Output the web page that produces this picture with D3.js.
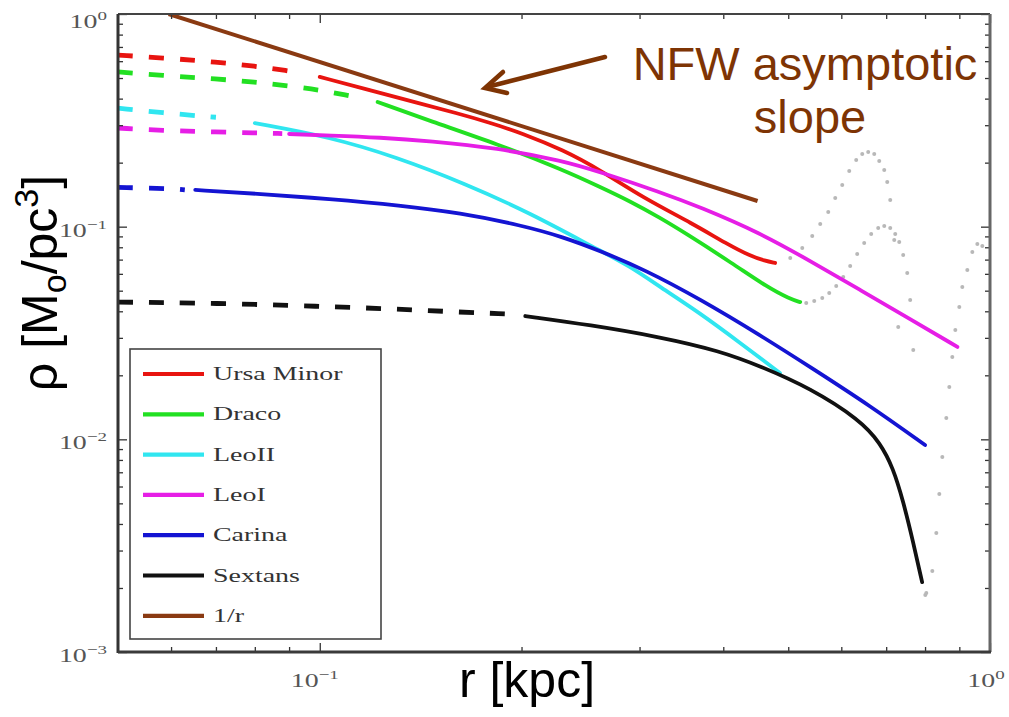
<!DOCTYPE html>
<html><head><meta charset="utf-8">
<script src="https://cdn.jsdelivr.net/npm/d3@7"></script>
<style>body{margin:0;background:#fff;} svg{display:block;}</style>
</head><body>
<svg id="c" width="1009" height="717"></svg>
<script>
// ---------------- DATA ----------------
const seriesNames = ["Ursa Minor","Draco","LeoII","LeoI","Carina","Sextans","1/r"];
const seriesColors = ["#e81410","#22e022","#30e6f0","#e61ee6","#1414d2","#111111","#8a3a12"];

const umDashR = [0.05,0.06,0.07,0.08,0.09,0.0935];
const umDashRho = [0.641,0.618,0.594,0.569,0.540,0.528];
const umR = [0.1,0.12,0.14,0.16,0.18,0.2,0.231,0.262,0.304,0.361,0.405,0.4388,0.462,0.478];
const umRho = [0.506,0.4344,0.3815,0.3423,0.3073,0.2757,0.229,0.1847,0.1364,0.1029,0.0829,0.0728,0.0690,0.0675];

const drDashR = [0.05,0.06,0.07,0.08,0.09,0.1,0.111];
const drDashRho = [0.534,0.511,0.495,0.479,0.459,0.439,0.412];
const drR = [0.122,0.146,0.184,0.231,0.262,0.290,0.322,0.349,0.414,0.465,0.503,0.521];
const drRho = [0.386,0.3140,0.2447,0.1847,0.1536,0.1320,0.110,0.0944,0.0668,0.0520,0.0457,0.0442];

const l2DashR = [0.05,0.06,0.07];
const l2DashRho = [0.361,0.340,0.327];
const l2R = [0.08,0.1036,0.130,0.164,0.206,0.259,0.290,0.322,0.369,0.424,0.486];
const l2Rho = [0.307,0.264,0.2127,0.1604,0.1160,0.0785,0.0653,0.0520,0.0393,0.0284,0.0205];

const l1DashR = [0.05,0.06,0.07,0.08,0.0879];
const l1DashRho = [0.291,0.282,0.279,0.276,0.274];
const l1R = [0.09,0.1036,0.123,0.146,0.184,0.231,0.262,0.322,0.369,0.454,0.539,0.640,0.760,0.894];
const l1Rho = [0.2727,0.2684,0.2626,0.2528,0.2344,0.2036,0.1807,0.1455,0.1237,0.0934,0.0690,0.0504,0.0368,0.0272];

const caDashR = [0.05,0.06,0.0629];
const caDashRho = [0.153,0.151,0.149];
const caR = [0.0652,0.08,0.1036,0.1318,0.162,0.1991,0.231,0.262,0.306,0.369,0.454,0.539,0.663,0.800];
const caRho = [0.1488,0.1432,0.1349,0.1258,0.1160,0.1018,0.0894,0.0769,0.0626,0.0457,0.0309,0.0219,0.01435,0.0094];

const sxDashR = [0.05,0.07,0.1,0.13,0.16,0.19];
const sxDashRho = [0.0442,0.0437,0.0422,0.0410,0.0397,0.0389];
const sxR = [0.2026,0.253,0.322,0.396,0.454,0.539,0.640,0.686,0.717,0.742,0.768,0.792];
const sxRho = [0.0380,0.0345,0.0303,0.0260,0.0221,0.01743,0.01233,0.00961,0.00733,0.00513,0.00329,0.00213];

const nfwR = [0.0595,0.45];
const nfwRho = [1.0,0.132];

// grey dotted extrapolations
const extAR = [0.5035,0.5247,0.5430,0.5581,0.5737,0.5876,0.6019,0.6166,0.6315,0.6447,0.6581,0.6719,0.6835,0.6954,0.7026,0.7098,0.7197,0.7296,0.7683];
const extARho = [0.0712,0.0794,0.0904,0.1029,0.1172,0.1364,0.1570,0.1827,0.2058,0.2196,0.2244,0.2196,0.2036,0.1847,0.1622,0.1334,0.0865,0.0337,0.0263];
const extBR = [0.5319,0.5467,0.5620,0.5756,0.5896,0.6040,0.6186,0.6337,0.6491,0.6649,0.6811,0.6954,0.7098,0.7221,0.7321,0.7422,0.7525,0.7602];
const extBRho = [0.04376,0.04472,0.04620,0.04877,0.05260,0.05799,0.06533,0.07437,0.08378,0.09237,0.09857,0.10073,0.09857,0.09237,0.08469,0.07357,0.06056,0.04520];
const extCR = [0.8007,0.8034,0.8202,0.8316,0.8402,0.8489,0.8606,0.8695,0.8785,0.8877,0.8999,0.9092,0.9250,0.9411,0.9574,0.9740];
const extCRho = [0.001854,0.001895,0.002404,0.003627,0.005534,0.008259,0.01260,0.01762,0.02439,0.03267,0.04192,0.05203,0.06255,0.07600,0.08288,0.08111];

const xMajor = [0.1,1];
const xMinor = [0.06,0.07,0.08,0.09,0.2,0.3,0.4,0.5,0.6,0.7,0.8,0.9];
const yMajor = [0.001,0.01,0.1,1];
const yMinor = [];
[0.001,0.01,0.1].forEach(d => { for (let k=2;k<=9;k++) yMinor.push(d*k); });
const xTickLabels = [["10","−1"],["10","0"]];
const yTickLabels = [["10","−3"],["10","−2"],["10","−1"],["10","0"]];

// ---------------- CHART ----------------
const svg = d3.select("#c");
const L=118, R=990, T=14, B=652;
const x = d3.scaleLog().domain([0.05,1]).range([L,R]);
const y = d3.scaleLog().domain([0.001,1]).range([B,T]);

svg.append("defs").append("clipPath").attr("id","clip")
  .append("rect").attr("x",L).attr("y",T).attr("width",R-L).attr("height",B-T);
const g = svg.append("g").attr("clip-path","url(#clip)");

const line = d3.line().x(d=>x(d[0])).y(d=>y(d[1])).curve(d3.curveBasis);
const zip = (a,b)=>a.map((v,i)=>[v,b[i]]);

// grey dots
[[extAR,extARho],[extBR,extBRho],[extCR,extCRho]].forEach(([rr,pp])=>{
  g.append("g").selectAll("circle").data(zip(rr,pp)).join("circle")
   .attr("cx",d=>x(d[0])).attr("cy",d=>y(d[1])).attr("r",2).attr("fill","#b8b8b8");
});

const series = [
  [umDashR,umDashRho,umR,umRho],
  [drDashR,drDashRho,drR,drRho],
  [l2DashR,l2DashRho,l2R,l2Rho],
  [l1DashR,l1DashRho,l1R,l1Rho],
  [caDashR,caDashRho,caR,caRho],
  [sxDashR,sxDashRho,sxR,sxRho]
];
series.forEach((s,i)=>{
  g.append("path").attr("d",line(zip(s[0],s[1]))).attr("fill","none")
    .attr("stroke",seriesColors[i]).attr("stroke-width",4.8).attr("stroke-dasharray","15,16");
  g.append("path").attr("d",line(zip(s[2],s[3]))).attr("fill","none")
    .attr("stroke",seriesColors[i]).attr("stroke-width",3.8).attr("stroke-linecap","round");
});
// 1/r
g.append("path").attr("d",d3.line().x(d=>x(d[0])).y(d=>y(d[1]))(zip(nfwR,nfwRho)))
  .attr("fill","none").attr("stroke",seriesColors[6]).attr("stroke-width",4);

// axes frame & ticks
const axCol="#333";
function tickAxis(gen, vals, len, tr){
  const a = svg.append("g").attr("transform",tr)
    .call(gen.tickValues(vals).tickSizeInner(-len).tickSizeOuter(0).tickFormat(""));
  a.select(".domain").remove();
  a.selectAll("line").attr("stroke",axCol).attr("stroke-width",1.3);
}
tickAxis(d3.axisBottom(x), xMajor, 9, `translate(0,${B})`);
tickAxis(d3.axisBottom(x), xMinor, 5, `translate(0,${B})`);
tickAxis(d3.axisTop(x), xMajor, 9, `translate(0,${T})`);
tickAxis(d3.axisTop(x), xMinor, 5, `translate(0,${T})`);
tickAxis(d3.axisLeft(y), yMajor, 9, `translate(${L},0)`);
tickAxis(d3.axisLeft(y), yMinor, 5, `translate(${L},0)`);
tickAxis(d3.axisRight(y), yMajor, 9, `translate(${R},0)`);
tickAxis(d3.axisRight(y), yMinor, 5, `translate(${R},0)`);

svg.append("line").attr("x1",L).attr("x2",R).attr("y1",T).attr("y2",T).attr("stroke","#444").attr("stroke-width",2);
svg.append("line").attr("x1",R).attr("x2",R).attr("y1",T).attr("y2",B).attr("stroke","#666").attr("stroke-width",3);
svg.append("line").attr("x1",L).attr("x2",L).attr("y1",T).attr("y2",B+1).attr("stroke","#333").attr("stroke-width",3);
svg.append("line").attr("x1",L).attr("x2",R+1).attr("y1",B).attr("y2",B).attr("stroke","#3a3a3a").attr("stroke-width",3);

// stretched serif text helper
const SX = 1.47;
function serifText(px, py, anchor, parts, size, col){
  const gg = svg.append("g").attr("transform",`translate(${px},${py}) scale(${SX},1)`);
  const t = gg.append("text").attr("text-anchor",anchor)
    .attr("font-family","'Liberation Serif','DejaVu Serif',serif").attr("font-size",size).attr("fill",col);
  t.append("tspan").text(parts[0]);
  if (parts[1]) t.append("tspan").attr("dy",-8).attr("font-size",size*0.68).text(parts[1]);
  return t;
}
const tickCol="#555";
yMajor.forEach((v,i)=>{
  serifText(107, y(v)+ (v===1?14:10), "end", yTickLabels[i], 19, tickCol);
});
xMajor.forEach((v,i)=>{
  serifText(x(v)-(v===1?4:5), 687, "middle", xTickLabels[i], 19, tickCol);
});

// legend
const lg = svg.append("g");
lg.append("rect").attr("x",130).attr("y",349).attr("width",251).attr("height",290)
  .attr("fill","#fff").attr("stroke","#444").attr("stroke-width",1.6);
seriesNames.forEach((nm,i)=>{
  const ry = 374 + i*40.3;
  lg.append("line").attr("x1",143).attr("x2",204).attr("y1",ry).attr("y2",ry)
    .attr("stroke",seriesColors[i]).attr("stroke-width",4.2);
  serifText(213, ry+6, "start", [nm], 19, "#333");
});

// axis titles
svg.append("text").attr("x",527).attr("y",697).attr("text-anchor","middle")
  .attr("font-family","'Liberation Sans',Arial,sans-serif").attr("font-size",50).attr("fill","#000")
  .text("r [kpc]");
const yl = svg.append("text").attr("transform","translate(57,283) rotate(-90)").attr("text-anchor","middle")
  .attr("font-family","'Liberation Sans',Arial,sans-serif").attr("font-size",50).attr("fill","#000");
yl.append("tspan").text("ρ [M");
yl.append("tspan").attr("font-size",34).attr("dy",9).text("o");
yl.append("tspan").attr("dy",-9).text("/pc");
yl.append("tspan").attr("font-size",34).attr("dy",-19).text("3");
yl.append("tspan").attr("dy",19).text("]");

// annotation
const annCol="#7e3404";
svg.append("text").attr("x",805).attr("y",80).attr("text-anchor","middle")
  .attr("font-family","'Liberation Sans',Arial,sans-serif").attr("font-size",47).attr("fill",annCol)
  .text("NFW asymptotic");
svg.append("text").attr("x",810).attr("y",133).attr("text-anchor","middle")
  .attr("font-family","'Liberation Sans',Arial,sans-serif").attr("font-size",47).attr("fill",annCol)
  .text("slope");
svg.append("line").attr("x1",605).attr("y1",57).attr("x2",487).attr("y2",87)
  .attr("stroke",annCol).attr("stroke-width",4.5).attr("stroke-linecap","round");
svg.append("polyline").attr("points","503,72 485,88 507,93").attr("fill","none")
  .attr("stroke",annCol).attr("stroke-width",4.5).attr("stroke-linecap","round").attr("stroke-linejoin","miter");
</script>
</body></html>
